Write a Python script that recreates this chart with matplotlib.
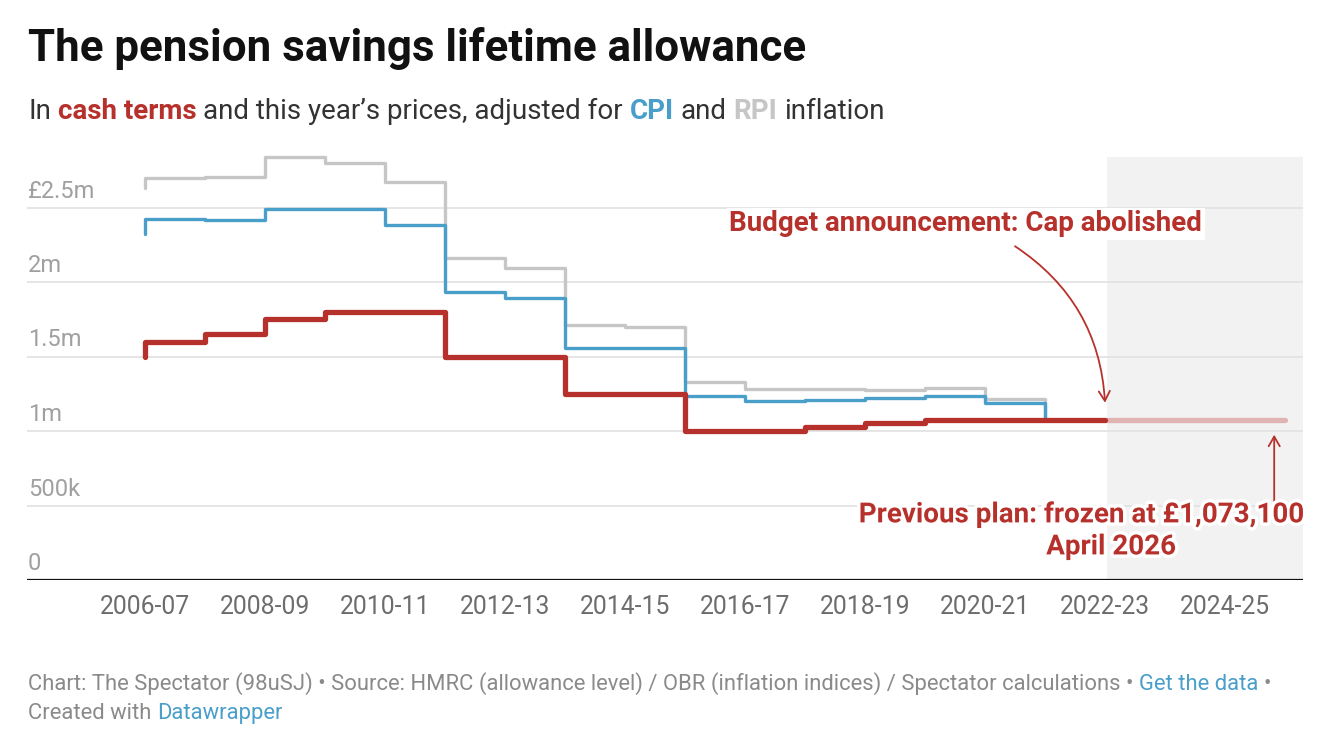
import matplotlib
matplotlib.use("Agg")
import matplotlib.pyplot as plt
import matplotlib.patheffects as pe
from matplotlib.patches import FancyArrowPatch

# ---- data (values in £m) ----
years = ["2006-07", "2007-08", "2008-09", "2009-10", "2010-11", "2011-12",
         "2012-13", "2013-14", "2014-15", "2015-16", "2016-17", "2017-18",
         "2018-19", "2019-20", "2020-21", "2021-22", "2022-23", "2023-24",
         "2024-25", "2025-26"]
cash = [1.5, 1.6, 1.65, 1.75, 1.8, 1.8, 1.5, 1.5, 1.25, 1.25, 1.0, 1.0,
        1.03, 1.055, 1.0731, 1.0731, 1.0731]
cpi = [2.32, 2.424, 2.415, 2.489, 2.489, 2.384, 1.936, 1.892, 1.56, 1.558,
       1.236, 1.203, 1.211, 1.221, 1.236, 1.187, 1.0731]
rpi = [2.63, 2.697, 2.704, 2.836, 2.798, 2.668, 2.158, 2.097, 1.713, 1.697,
       1.328, 1.281, 1.281, 1.277, 1.288, 1.214, 1.0731]
frozen_years = ["2022-23", "2023-24", "2024-25", "2025-26"]
frozen = [1.0731, 1.0731, 1.0731, 1.0731]
y_ticks = [0, 0.5, 1.0, 1.5, 2.0, 2.5]
y_labels = ["0", "500k", "1m", "1.5m", "2m", "£2.5m"]
x_labels = years[0:19:2]

RED = "#b7312c"
BLUE = "#4a9fca"
GREY = "#c6c6c6"
FONT = "Roboto"

W, H = 1342, 756
fig = plt.figure(figsize=(W / 100, H / 100), dpi=100)
plt.rcParams["font.family"] = [FONT, "DejaVu Sans"]

# axes placed in pixels
L, R, T, B = 27, 1303, 157, 580
ax = fig.add_axes([L / W, 1 - B / H, (R - L) / W, (B - T) / H])
x0px, step = 145, 60
ax.set_xlim(-(x0px - L) / step, (R - x0px) / step)
ax.set_ylim(0, (B - T) / 149)

idx = list(range(len(years)))
t_cash = idx[:len(cash)]
t_frozen = [years.index(y) for y in frozen_years]

ax.axvspan(years.index("2022-23") + 0.04, ax.get_xlim()[1], color="#f2f2f2", lw=0, zorder=0)
for v in y_ticks[1:]:
    ax.axhline(v, color="#e3e3e3", lw=1.3, zorder=1)
ax.axhline(0, color="#111111", lw=1.6, zorder=5)

kw = dict(drawstyle="steps-pre", solid_capstyle="round", solid_joinstyle="round", clip_on=False)
ax.plot(t_cash, rpi, color=GREY, lw=2.4, zorder=2, **kw)
ax.plot(t_cash, cpi, color=BLUE, lw=2.4, zorder=3, **kw)
ax.plot(t_frozen, frozen, color=RED, alpha=0.32, lw=3.8, zorder=3, **kw)
ax.plot(t_cash, cash, color=RED, lw=3.8, zorder=4, **kw)

for s in ax.spines.values():
    s.set_visible(False)
ax.set_xticks([])
ax.set_yticks([])

for v, lab in zip(y_ticks, y_labels):
    ax.annotate(lab, xy=(0, v), xycoords=("axes fraction", "data"),
                xytext=(1, 10), textcoords="offset pixels", va="baseline",
                ha="left", fontsize=17, color="#a0a0a0")
for lab in x_labels:
    ax.annotate(lab, xy=(years.index(lab), 0), xytext=(0, -34),
                textcoords="offset pixels", va="baseline", ha="center",
                fontsize=17.8, color="#6d6d6d", annotation_clip=False)

# annotations
halo = [pe.withStroke(linewidth=5, foreground="white")]
ax.text(13.68, 2.39, "Budget announcement: Cap abolished", color=RED,
        fontsize=20, fontweight="bold", ha="center", va="center", zorder=6,
        bbox=dict(facecolor="white", edgecolor="none", pad=2))
ax.add_patch(FancyArrowPatch((14.5, 2.24), (16.0, 1.19),
                             connectionstyle="arc3,rad=-0.25",
                             arrowstyle="->,head_length=7,head_width=4",
                             color=RED, lw=1.3, shrinkA=0, shrinkB=0, zorder=6))
ax.add_patch(FancyArrowPatch((18.82, 0.47), (18.82, 0.975),
                             arrowstyle="->,head_length=7,head_width=4",
                             color=RED, lw=1.3, shrinkA=0, shrinkB=0, zorder=6))
ax.text(19.3, 0.437, "Previous plan: frozen at £1,073,100", color=RED,
        fontsize=20, fontweight="bold", ha="right", va="center", zorder=6,
        path_effects=halo)
ax.text(16.1, 0.222, "April 2026", color=RED, fontsize=20, fontweight="bold",
        ha="center", va="center", zorder=6, path_effects=halo)


# ---- header / footer, multi-colour runs of text ----
renderer = fig.canvas.get_renderer()


def text_width(s, **kw):
    t = fig.text(0, 0, s, **kw)
    w = t.get_window_extent(renderer=renderer).width
    t.remove()
    return w


def rich_line(x, y, parts, size):
    space = text_width("x x", fontsize=size) - text_width("xx", fontsize=size)
    for s, color, weight in parts:
        t = fig.text(x / W, 1 - y / H, s.strip(), color=color, fontweight=weight,
                     fontsize=size, va="baseline", ha="left")
        x += t.get_window_extent(renderer=renderer).width
        if s.endswith(" "):
            x += space


fig.text(28 / W, 1 - 61 / H, "The pension savings lifetime allowance",
         fontsize=31.6, fontweight="bold", color="#111111", va="baseline")
rich_line(28, 119, [("In ", "#333333", "normal"),
                    ("cash terms ", RED, "bold"),
                    ("and this year’s prices, adjusted for ", "#333333", "normal"),
                    ("CPI ", BLUE, "bold"),
                    ("and ", "#333333", "normal"),
                    ("RPI ", GREY, "bold"),
                    ("inflation", "#333333", "normal")], 20)
FOOT = "#8a8a8a"
rich_line(28, 690, [("Chart: The Spectator (98uSJ) • Source: HMRC (allowance level) / "
                     "OBR (inflation indices) / Spectator calculations • ", FOOT, "normal"),
                    ("Get the data ", BLUE, "normal"),
                    ("•", FOOT, "normal")], 15.8)
rich_line(28, 719, [("Created with ", FOOT, "normal"),
                    ("Datawrapper", BLUE, "normal")], 15.8)

fig.savefig("out.png", dpi=100)
